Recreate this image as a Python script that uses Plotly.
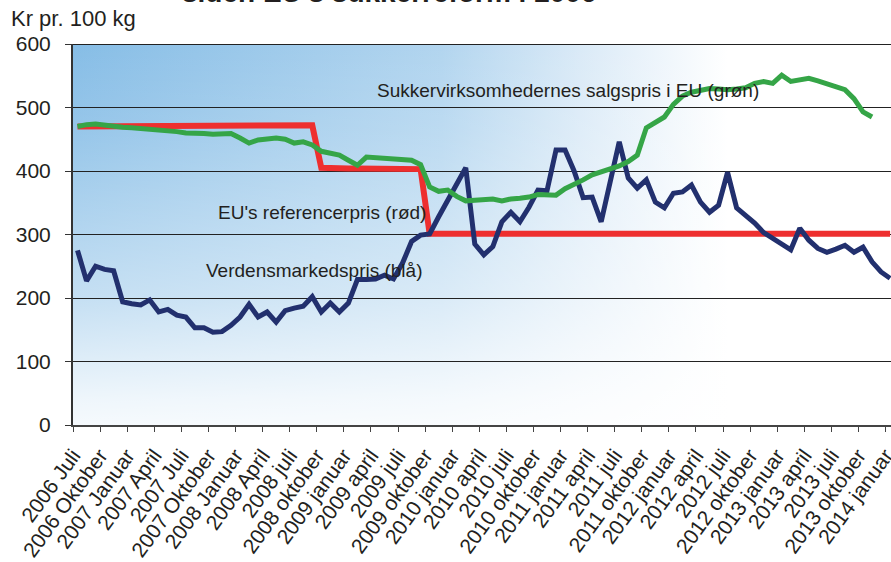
import base64
import plotly.graph_objects as go

# Month index 0 = 2006 Juli ... 90 = 2014 januar
tick_labels = [
    "2006 Juli", "2006 Oktober", "2007 Januar", "2007 April", "2007 Juli",
    "2007 Oktober", "2008 Januar", "2008 April", "2008 juli", "2008 oktober",
    "2009 januar", "2009 april", "2009 juli", "2009 oktober", "2010 januar",
    "2010 april", "2010 juli", "2010 oktober", "2011 januar", "2011 april",
    "2011 juli", "2011 oktober", "2012 januar", "2012 april", "2012 juli",
    "2012 oktober", "2013 januar", "2013 april", "2013 juli", "2013 oktober",
    "2014 januar",
]

world_price = [
    275, 227, 250, 245, 243, 194, 191, 189, 197, 178,
    182, 173, 170, 153, 153, 146, 147, 157, 170, 190,
    170, 178, 162, 180, 184, 187, 202, 178, 192, 178,
    192, 229, 229, 230, 236, 230, 255, 289, 299, 301,
    328, 354, 380, 405, 285, 268, 281, 320, 335, 320,
    343, 370, 369, 433, 433, 400, 358, 359, 320, 383,
    446, 389, 373, 386, 351, 342, 365, 367, 378, 351,
    335, 346, 398, 342, 330, 318, 303, 294, 285, 276,
    310, 291, 278, 272, 277, 283, 272, 280, 257, 241,
    231,
]

reference_price = [
    470, 470, 470, 471, 471, 471, 471, 471, 470, 470,
    470, 471, 471, 471, 471, 471, 471, 471, 471, 472,
    472, 472, 472, 472, 472, 472, 472, 405, 404, 404,
    404, 404, 404, 404, 403, 403, 403, 403, 403, 301,
    301, 301, 301, 301, 301, 301, 301, 301, 301, 301,
    301, 301, 301, 301, 301, 301, 301, 301, 301, 300,
    300, 300, 300, 300, 300, 300, 300, 300, 300, 300,
    300, 300, 300, 300, 301, 301, 301, 301, 301, 301,
    301, 301, 301, 301, 301, 301, 301, 301, 301, 301,
    301,
]

eu_sales_price = [
    470, 473, 474, 472, 471, 469, 468, 467, 466, 465,
    463, 462, 460, 460, 459, 458, 458, 459, 452, 444,
    449, 450, 452, 450, 444, 446, 441, 431, 428, 425,
    417, 409, 422, 421, 420, 419, 418, 417, 410, 375,
    368, 370, 360, 353, 354, 355, 356, 353, 356, 357,
    359, 363, 362, 362, 372, 378, 386, 394, 398, 402,
    408, 415, 425, 468, 477, 485, 505, 518, 524, 528,
    530, 529, 528, 529, 531, 538, 541, 538, 551, 541,
    543, 546, 542, 538, 533, 528, 514, 493, 485,
]

FONT = "Liberation Sans, Arial, sans-serif"
TXT = "#231F20"

# gradient plot background: blue fading to white towards the right,
# and washed out towards the bottom
svg = (
    '<svg xmlns="http://www.w3.org/2000/svg" width="818" height="381" '
    'viewBox="0 0 818 381" preserveAspectRatio="none"><defs>'
    '<linearGradient id="h" x1="0" y1="0" x2="1" y2="0">'
    '<stop offset="0" stop-color="#86BDE6"/>'
    '<stop offset="0.45" stop-color="#B2D5EF"/>'
    '<stop offset="0.62" stop-color="#DAEAF7"/>'
    '<stop offset="0.8" stop-color="#FFFFFF"/>'
    '</linearGradient>'
    '<linearGradient id="v" x1="0" y1="0" x2="0" y2="1">'
    '<stop offset="0" stop-color="#FFFFFF" stop-opacity="0"/>'
    '<stop offset="0.23" stop-color="#FFFFFF" stop-opacity="0.14"/>'
    '<stop offset="0.41" stop-color="#FFFFFF" stop-opacity="0.3"/>'
    '<stop offset="0.67" stop-color="#FFFFFF" stop-opacity="0.52"/>'
    '<stop offset="0.93" stop-color="#FFFFFF" stop-opacity="0.86"/>'
    '<stop offset="1" stop-color="#FFFFFF" stop-opacity="0.92"/>'
    '</linearGradient></defs>'
    '<rect x="0" y="0" width="818" height="381" fill="url(#h)"/>'
    '<rect x="0" y="0" width="818" height="381" fill="url(#v)"/></svg>'
)
bg_src = "data:image/svg+xml;base64," + base64.b64encode(svg.encode()).decode()

x = list(range(len(world_price)))

fig = go.Figure()
fig.add_trace(go.Scatter(
    x=x, y=reference_price, mode="lines",
    line=dict(color="#EE2F2F", width=6), hoverinfo="skip",
))
fig.add_trace(go.Scatter(
    x=x, y=world_price, mode="lines",
    line=dict(color="#22306E", width=5), hoverinfo="skip",
))
fig.add_trace(go.Scatter(
    x=x[:len(eu_sales_price)], y=eu_sales_price, mode="lines",
    line=dict(color="#35A547", width=5), hoverinfo="skip",
))

fig.add_layout_image(dict(
    source=bg_src, xref="paper", yref="paper", x=0, y=1,
    sizex=1, sizey=1, sizing="stretch", layer="below",
))

# top border at 600
fig.add_shape(type="line", xref="paper", yref="y", x0=0, x1=1, y0=600, y1=600,
              line=dict(color="#222", width=2))

lbl = dict(size=19, color=TXT, family=FONT)
fig.add_annotation(x=32.9, y=526, xref="x", yref="y", xanchor="left", yanchor="middle",
                   text="Sukkervirksomhedernes salgspris i EU (grøn)", showarrow=False, font=lbl)
fig.add_annotation(x=38.8, y=335, xref="x", yref="y", xanchor="right", yanchor="middle",
                   text="EU's referencerpris (rød)", showarrow=False, font=lbl)
fig.add_annotation(x=38.4, y=244, xref="x", yref="y", xanchor="right", yanchor="middle",
                   text="Verdensmarkedspris (blå)", showarrow=False, font=lbl)

fig.add_annotation(x=0, y=1, xref="paper", yref="paper", xanchor="left", yanchor="bottom",
                   xshift=-64, yshift=11, text="Kr pr. 100 kg", showarrow=False,
                   font=dict(size=22, color=TXT, family=FONT))
# second title line, mostly cut off by the top of the page
fig.add_annotation(x=0.386, y=1, xref="paper", yref="paper", xanchor="center", yanchor="bottom",
                   yshift=34, text="<b>siden EU's sukkerreform i 2006</b>", showarrow=False,
                   font=dict(size=28, color=TXT, family=FONT))

fig.update_layout(
    width=891, height=562,
    margin=dict(l=73, r=0, t=44, b=137, autoexpand=False),
    paper_bgcolor="white",
    plot_bgcolor="rgba(0,0,0,0)",
    showlegend=False,
    xaxis=dict(
        range=[-0.5, 90.1],
        tickvals=[k - 0.5 for k in range(0, 91, 3)],
        ticktext=tick_labels,
        tickangle=-54,
        ticks="outside", ticklen=5, tickcolor="#444", tickwidth=1,
        ticklabelstandoff=3,
        ticklabeloverflow="allow",
        showgrid=False, zeroline=False,
        showline=True, linecolor="#444", linewidth=2,
        tickfont=dict(size=21, color=TXT, family=FONT),
        automargin=False,
    ),
    yaxis=dict(
        range=[0, 600],
        tickvals=[0, 100, 200, 300, 400, 500, 600],
        ticks="outside", ticklen=6, tickcolor="#333", tickwidth=1,
        ticklabelstandoff=10,
        showgrid=True, gridcolor="#222", gridwidth=1,
        zeroline=False,
        showline=True, linecolor="#333", linewidth=2,
        tickfont=dict(size=21, color=TXT, family=FONT),
        automargin=False,
    ),
)

# the page body has a default 8px margin; drop it so the figure sits at the window corner
fig.write_html("out.html", config={"displayModeBar": False},
               post_script="document.body.style.margin='0';")
